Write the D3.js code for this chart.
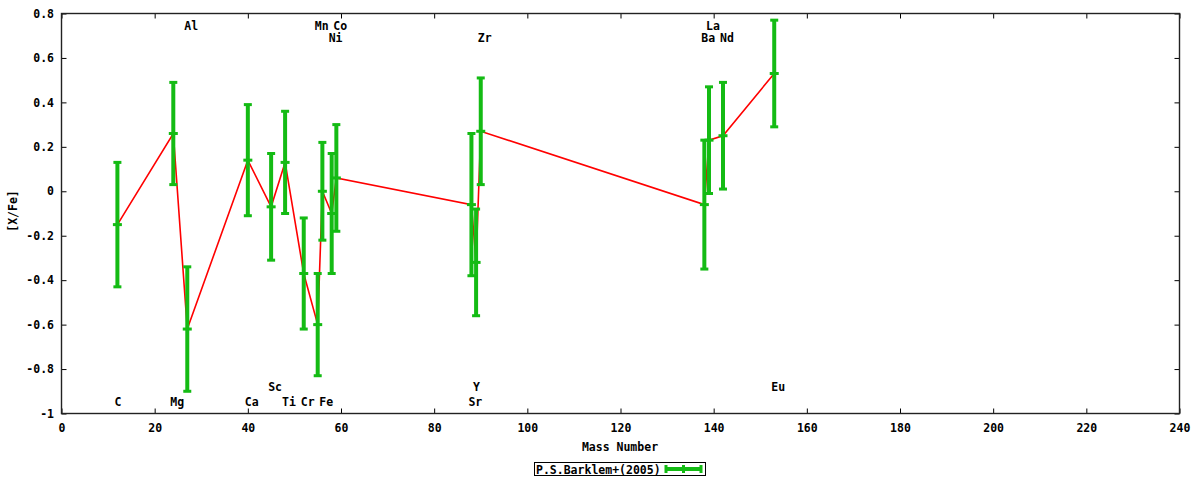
<!DOCTYPE html>
<html>
<head>
<meta charset="utf-8">
<script src="https://cdn.jsdelivr.net/npm/d3@7"></script>
<style>
  html, body { margin: 0; padding: 0; background: #fff; }
  svg { display: block; }
  text { font-family: "DejaVu Sans Mono", "Liberation Mono", monospace; font-weight: bold; font-size: 11.5px; fill: #000; }
</style>
</head>
<body>
<svg id="chart" width="1200" height="480"></svg>
<script>
// ---- data ----
const elements = ["C","Mg","Al","Ca","Sc","Ti","Cr","Mn","Fe","Ni","Co","Sr","Y","Zr","Ba","La","Nd","Eu"];
const massNumbers = [12,24,27,40,45,48,52,55,56,58,59,88,89,90,138,139,142,153];
const abundances = [-0.15,0.26,-0.62,0.14,-0.07,0.13,-0.37,-0.60,0.00,-0.10,0.06,-0.06,-0.32,0.27,-0.06,0.23,0.25,0.53];
const errors = [0.28,0.23,0.28,0.25,0.24,0.23,0.25,0.23,0.22,0.27,0.24,0.32,0.24,0.24,0.29,0.24,0.24,0.24];
// label row: 0 = top row, 1 = second top row, 2 = upper bottom row, 3 = lowest row
const labelRows = [3,3,0,3,2,3,3,0,3,1,0,3,2,1,1,0,1,2];
const labelRowY = [0.745, 0.69, -0.88, -0.95];
const xTicks = [0,20,40,60,80,100,120,140,160,180,200,220,240];
const yTicks = [-1,-0.8,-0.6,-0.4,-0.2,0,0.2,0.4,0.6,0.8];
const yTickLabels = ["-1","-0.8","-0.6","-0.4","-0.2","0","0.2","0.4","0.6","0.8"];
const seriesName = "P.S.Barklem+(2005)";
const xTitle = "Mass Number";
const yTitle = "[X/Fe]";

// ---- layout ----
const svg = d3.select("#chart");
const L = 61.5, R = 1179.5, T = 13.5, B = 413.5;
const x = d3.scaleLinear().domain([0, 240]).range([L, R]);
const y = d3.scaleLinear().domain([-1, 0.8]).range([B, T]);
const green = "#14bb14";

svg.append("rect").attr("width", 1200).attr("height", 480).attr("fill", "#fff");

const data = elements.map((e, i) => ({ el: e, m: massNumbers[i], v: abundances[i], e: errors[i], row: labelRows[i] }));

// axes
const axB = svg.append("g").attr("transform", `translate(0,${B})`)
  .call(d3.axisBottom(x).tickValues(xTicks).tickSize(-5).tickPadding(10).tickFormat(d3.format("d")));
const axT = svg.append("g").attr("transform", `translate(0,${T})`)
  .call(d3.axisTop(x).tickValues(xTicks).tickSize(-5).tickFormat(""));
const axL = svg.append("g").attr("transform", `translate(${L},0)`)
  .call(d3.axisLeft(y).tickValues(yTicks).tickSize(-5).tickPadding(7.5).tickFormat((d, i) => yTickLabels[i]));
const axR = svg.append("g").attr("transform", `translate(${R},0)`)
  .call(d3.axisRight(y).tickValues(yTicks).tickSize(-5).tickFormat(""));
[axB, axT, axL, axR].forEach(g => {
  g.select(".domain").remove();
  g.selectAll("line").attr("stroke", "#000").attr("stroke-width", 1);
  g.selectAll("text").attr("font-family", null).attr("font-size", null).attr("fill", "#000");
});

// frame
svg.append("rect").attr("x", L).attr("y", T).attr("width", R - L).attr("height", B - T)
  .attr("fill", "none").attr("stroke", "#222").attr("stroke-width", 1.4);

// element labels
svg.append("g").selectAll("text").data(data).join("text")
  .attr("x", d => x(d.m) - 3)
  .attr("y", d => y(labelRowY[d.row]))
  .attr("dominant-baseline", "central")
  .text(d => d.el);

// red connecting line
svg.append("path").datum(data)
  .attr("fill", "none").attr("stroke", "#ff0000").attr("stroke-width", 1.6)
  .attr("d", d3.line().x(d => x(d.m)).y(d => y(d.v)));

// error bars
const eb = svg.append("g").selectAll("g").data(data).join("g");
eb.append("line")
  .attr("x1", d => x(d.m)).attr("x2", d => x(d.m))
  .attr("y1", d => y(d.v + d.e)).attr("y2", d => y(d.v - d.e))
  .attr("stroke", green).attr("stroke-width", 4);
eb.append("rect").attr("x", d => x(d.m) - 4).attr("y", d => y(d.v + d.e) - 1.5)
  .attr("width", 8).attr("height", 3).attr("fill", green);
eb.append("rect").attr("x", d => x(d.m) - 4).attr("y", d => y(d.v - d.e) - 1.5)
  .attr("width", 8).attr("height", 3).attr("fill", green);
eb.append("rect").attr("x", d => x(d.m) - 4.5).attr("y", d => y(d.v) - 1.5)
  .attr("width", 9).attr("height", 3).attr("fill", green);

// axis titles
svg.append("text").attr("x", 620).attr("y", 447).attr("text-anchor", "middle")
  .attr("dominant-baseline", "central").text(xTitle);
svg.append("text").attr("transform", "translate(12.5,211) rotate(-90)").attr("text-anchor", "middle")
  .attr("dominant-baseline", "central").text(yTitle);

// legend
const lg = svg.append("g");
lg.append("rect").attr("x", 534.5).attr("y", 462.5).attr("width", 171).attr("height", 13)
  .attr("fill", "#fff").attr("stroke", "#000").attr("stroke-width", 1);
lg.append("text").attr("x", 536).attr("y", 469.5).attr("dominant-baseline", "central").text(seriesName);
lg.append("line").attr("x1", 666).attr("x2", 701).attr("y1", 469).attr("y2", 469)
  .attr("stroke", green).attr("stroke-width", 4);
[666, 683.5, 701].forEach(px => {
  lg.append("rect").attr("x", px - 1.5).attr("y", 465).attr("width", 3).attr("height", 8).attr("fill", green);
});
</script>
</body>
</html>
